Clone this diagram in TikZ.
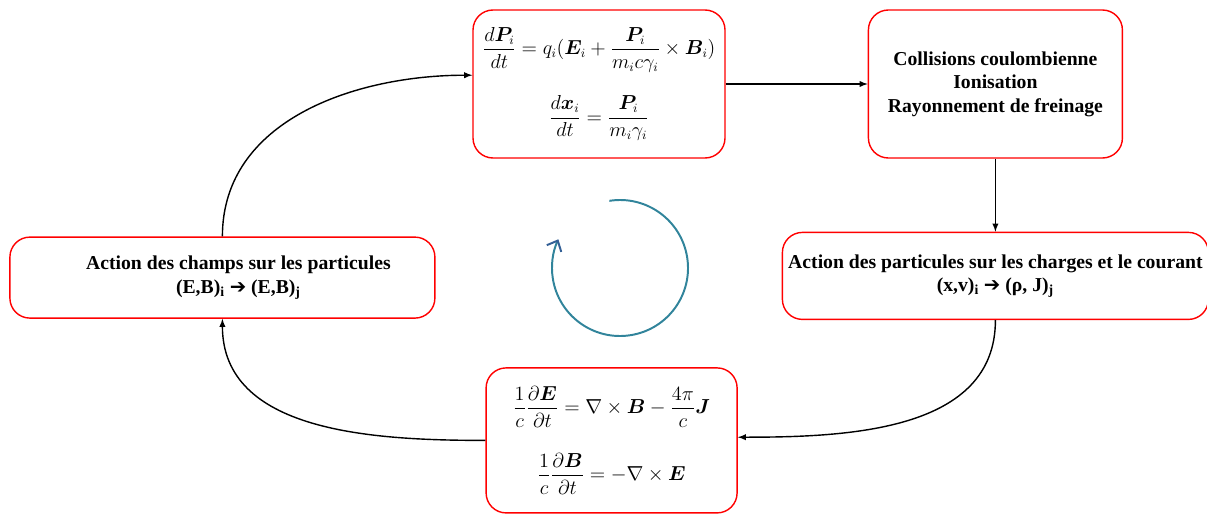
\documentclass[tikz,border=0pt]{standalone}
\usepackage{amsmath}
\usepackage{bm}
\usepackage{fontspec}
\setmainfont{Liberation Serif}
\newfontfamily\symfont{DejaVu Sans}
\usepackage{tikz}
\usetikzlibrary{arrows, arrows.meta}
\usetikzlibrary{positioning}
\definecolor{loopteal}{RGB}{49,132,155}
\definecolor{loophead}{RGB}{52,96,150}
\tikzstyle{block} = [rectangle, rounded corners=0.5cm, draw=red, line width=1pt, fill=white, text centered, align=center, font=\fontsize{14}{16.7}\selectfont\bfseries]
\tikzstyle{eqblock} = [block, font=\fontsize{13.3}{16}\selectfont]
\tikzstyle{arrow} = [line width=1pt,->,>=latex]
\tikzstyle{cycle} = [line width=1.4pt, draw=loopteal, -{Straight Barb[length=2.2mm, width=4mm, color=loophead]}]
\newcommand{\bigarr}{{\symfont\mdseries\char"2794}}

\begin{document}
\begin{tikzpicture}[node distance=1.2cm]
\useasboundingbox (0,0) rectangle (30.175,-12.875);

% Equations of motion
\node (motion) [eqblock, minimum width=6.3cm, minimum height=3.7cm] at (14.975,-2.1) {$\displaystyle \frac{d\bm{P}_i}{dt} = q_i(\bm{E}_i + \frac{\bm{P}_i}{m_i c\gamma_i}\times\bm{B}_i)$\\[15pt]
$\displaystyle \frac{d\bm{x}_i}{dt} = \frac{\bm{P}_i}{m_i\gamma_i}$};

% Collisions
\node (collis) [block, minimum width=6.35cm, minimum height=3.7cm, right=3.55cm of motion] {Collisions coulombienne\\Ionisation\\Rayonnement de freinage};

% Particles -> charges and current
\node (partic) [block, minimum width=10.65cm, minimum height=2.175cm, below=1.825cm of collis] {Action des particules sur les charges et le courant\\(x,v)\textsubscript{i} \bigarr\ (ρ, J)\textsubscript{j}};

% Maxwell equations
\node (maxwell) [eqblock, minimum width=6.275cm, minimum height=3.625cm] at (15.29,-11.01) {$\displaystyle \frac{1}{c}\frac{\partial\bm{E}}{\partial t} = \nabla\times\bm{B} - \frac{4\pi}{c}\bm{J}$\\[17pt]
$\displaystyle \frac{1}{c}\frac{\partial\bm{B}}{\partial t} = -\nabla\times\bm{E}$};

% Fields -> particles
\node (champs) [block, minimum width=10.625cm, minimum height=2.025cm] at (5.56,-6.94) {\hspace*{0.8cm}Action des champs sur les particules\\\hspace*{0.8cm}(E,B)\textsubscript{i} \bigarr\ (E,B)\textsubscript{j}};

% Loop arrows
\draw [arrow] (motion) -- (collis);
\draw [arrow] (collis.south) -- (collis.south |- partic.north);
\draw [arrow] (partic.south) to[out=-90, in=0] ([yshift=0.08cm]maxwell.east);
\draw [arrow] (maxwell.west) to[out=180, in=-90] (champs.south);
\draw [arrow] (champs.north) to[out=90, in=180] ([yshift=0.22cm]motion.west);

% Cycle symbol
\coordinate (loopc) at (15.5,-6.7);
\draw [cycle] ([shift={(99:1.7)}]loopc) arc[start angle=99, end angle=-205, radius=1.7];

\end{tikzpicture}
\end{document}
